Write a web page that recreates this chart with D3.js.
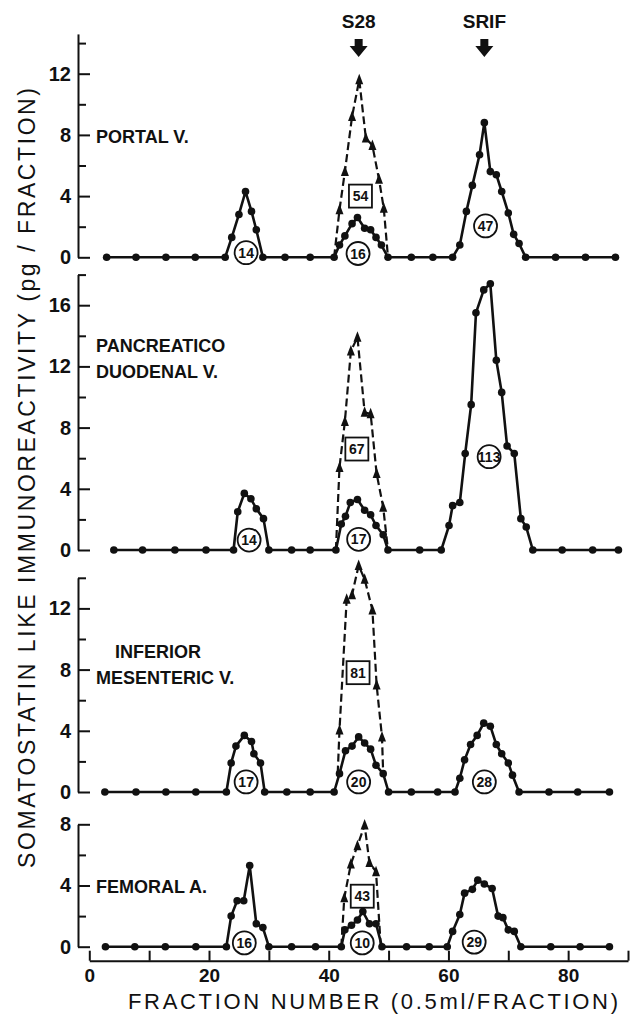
<!DOCTYPE html>
<html>
<head>
<meta charset="utf-8">
<script src="https://cdn.jsdelivr.net/npm/d3@7"></script>
<style>
body { margin: 0; background: #fff; }
svg { display: block; }
text { font-family: "Liberation Sans", Arial, sans-serif; fill: #111; }
</style>
</head>
<body>
<div id="chart"></div>
<script>

// [fraction, pg/fraction]
var portalSolid = [[2.9,0],[7.8,0],[12.8,0],[17.7,0],[22.7,0],[23.8,1.3],[25,2.8],[26.1,4.3],[27.1,3.0],[27.9,1.8],[29,0],
    [32.7,0],[36.9,0],[40.9,0],[41.8,0.8],[42.7,1.4],[43.9,2.2],[44.8,2.6],[46,1.9],[47,1.8],[47.9,1.3],[48.8,0.8],[49.9,0],
    [53.8,0],[57.4,0],[60.7,0],[61.9,0.8],[63,3.0],[64,4.7],[65.2,6.7],[66,8.8],[67,5.6],[68,5.4],[68.9,4.3],[70,2.9],
    [70.9,1.5],[71.8,0.9],[72.9,0],[77.9,0],[82.9,0],[87.9,0]];
var portalDashed = [[40.9,0],[41.8,3.1],[42.7,5.6],[43.9,9.2],[45.1,11.6],[46.2,7.8],[47.3,7.3],[48.4,5.1],[49.2,3.2],[49.9,0]];

var pancSolid = [[4.1,0],[8.9,0],[14.3,0],[19.5,0],[24.1,0],[24.8,2.5],[25.9,3.7],[27,3.35],[27.9,2.7],[29.1,2.05],[30,0],
    [33.8,0],[36.9,0],[41.2,0],[42.1,1.7],[42.8,2.2],[43.6,3.1],[44.8,3.3],[46,2.6],[47,2.3],[47.9,1.6],[49.1,1.0],[49.9,0],
    [55.2,0],[58.8,0],[60.1,1.6],[60.7,2.9],[61.9,3.1],[62.8,6.3],[63.8,9.5],[64.6,15.5],[65.9,17.0],[67,17.4],[68,12.4],
    [68.9,10.3],[69.8,6.8],[71,6.3],[72.1,2.05],[73,1.5],[74.1,0],[79,0],[84.1,0],[88.4,0]];
var pancDashed = [[41.2,0],[41.8,5.4],[42.7,8.4],[43.7,13.0],[44.8,13.9],[46,9.0],[47,8.9],[48,5.0],[49.1,2.8],[49.9,0]];

var infSolid = [[2.6,0],[7.8,0],[12.8,0],[17.8,0],[22.9,0],[23.7,1.9],[24.5,3.0],[25.9,3.7],[27.1,3.3],[27.5,2.5],[28.6,1.9],[29.3,0],
    [33,0],[36.9,0],[40.9,0],[41.8,1.2],[42.8,2.7],[43.9,3.0],[45,3.6],[46,3.2],[47,2.8],[47.9,1.75],[49.1,1.2],[50,0],
    [53.8,0],[58.2,0],[61.1,0],[61.9,0.9],[62.7,2.1],[63.7,3.1],[64.8,3.7],[65.9,4.5],[67,4.3],[68,3.1],[68.9,2.5],[70,1.9],
    [70.7,1.1],[71.8,0],[76.8,0],[81.6,0],[86.9,0]];
var infDashed = [[41.5,1.2],[41.8,4.05],[43,12.6],[43.9,12.9],[45,14.8],[46,13.9],[47.3,11.9],[48,7.0],[48.9,3.6],[49.1,1.2]];

var femSolid = [[2.7,0],[7.6,0],[12.7,0],[17.8,0],[22.9,0],[23.7,2.0],[24.7,3.0],[25.8,3.0],[26.8,5.3],[27.9,1.5],[29,1.25],[30,0],
    [33.8,0],[37.8,0],[42.1,0],[42.7,1.1],[43.8,1.4],[44.8,1.75],[45.7,2.3],[46.8,1.5],[47.9,1.5],[48.9,0],
    [53,0],[56.8,0],[59.8,0],[60.7,1.0],[61.9,2.1],[62.7,3.5],[64,3.75],[64.9,4.35],[66,4.1],[67.3,3.8],[68.3,2.0],[69.1,1.9],
    [70,1.1],[71,1.0],[72.1,0],[77.1,0],[82,0],[86.9,0]];
var femDashed = [[42.1,0],[42.6,3.2],[43.7,5.4],[44.8,6.6],[46,7.95],[46.8,5.5],[47.9,4.9],[48.7,0]];

// totals written in circles (solid peaks) and boxes (dashed peak): [fraction, y, text, shape]
var portalNotes = [[26.2,0.3,"14","c"],[44.9,0.25,"16","c"],[45.3,4.0,"54","b"],[66.2,2.05,"47","c"]];
var pancNotes = [[26.7,0.65,"14","c"],[45,0.7,"17","c"],[44.7,6.6,"67","b"],[66.8,6.1,"113","c"]];
var infNotes = [[26.2,0.66,"17","c"],[45,0.66,"20","c"],[66,0.66,"28","c"],[44.9,7.8,"81","b"]];
var femNotes = [[25.9,0.25,"16","c"],[45.6,0.25,"10","c"],[64.3,0.3,"29","c"],[45.6,3.3,"43","b"]];

var markerNames = ["S28", "SRIF"];
var markerFracs = [45, 66];

var xTicks = [0,10,20,30,40,50,60,70,80,90];
var xLabels = [0,20,40,60,80];

var width = 633, height = 1016, unit = 15.3;

var panels = [
    {solid: portalSolid, dashed: portalDashed, notes: portalNotes, top: 14.6, y0: 257.3,
     name: [["PORTAL V.", 96, 143]]},
    {solid: pancSolid, dashed: pancDashed, notes: pancNotes, top: 18, y0: 550,
     name: [["PANCREATICO", 96, 352], ["DUODENAL V.", 96, 378]]},
    {solid: infSolid, dashed: infDashed, notes: infNotes, top: 14, y0: 792,
     name: [["INFERIOR", 115, 658], ["MESENTERIC V.", 96, 684]]},
    {solid: femSolid, dashed: femDashed, notes: femNotes, top: 8, y0: 946.7,
     name: [["FEMORAL A.", 96, 893]]},
];

var svg = d3.select("#chart").append("svg")
    .attr("width", width)
    .attr("height", height);

svg.append("rect").attr("width", width).attr("height", height).attr("fill", "#fff");

var x = d3.scaleLinear().domain([0, 90]).range([89.3, 628]);
var axisX = 78;

panels.forEach(function(p) {
    var y = d3.scaleLinear().domain([0, p.top]).range([p.y0, p.y0 - p.top * unit]);
    var g = svg.append("g");

    // y axis: labelled majors every 4, minors every 2, ticks point inwards
    var major = d3.range(0, p.top + 0.01, 4);
    var minor = d3.range(2, p.top + 0.01, 4);

    var ga = g.append("g")
        .attr("transform", "translate(" + axisX + ",0)")
        .call(d3.axisLeft(y).tickValues(major).tickSizeInner(-12).tickSizeOuter(0)
              .tickPadding(7).tickFormat(d3.format("d")));
    g.append("g")
        .attr("transform", "translate(" + axisX + ",0)")
        .call(d3.axisLeft(y).tickValues(minor).tickSizeInner(-8).tickSizeOuter(0).tickFormat(""))
        .select(".domain").remove();

    g.selectAll(".domain, .tick line").attr("stroke", "#111").attr("stroke-width", 2);
    ga.selectAll(".tick text")
        .attr("font-size", 20).attr("font-weight", "bold").attr("fill", "#111");

    // panel name
    p.name.forEach(function(n) {
        g.append("text").attr("x", n[1]).attr("y", n[2])
            .attr("font-size", 18).attr("font-weight", "bold")
            .text(n[0]);
    });

    var line = d3.line().x(d => x(d[0])).y(d => y(d[1]));

    // dashed S28 profile (other assay)
    g.append("path")
        .attr("d", line(p.dashed))
        .attr("fill", "none").attr("stroke", "#111")
        .attr("stroke-width", 2.2).attr("stroke-dasharray", "8,4");
    g.selectAll(".tri")
        .data(p.dashed.filter(d => d[1] > 1.5))
        .enter().append("path")
        .attr("class", "tri")
        .attr("d", "M0,-6L4,4.5L-4,4.5Z")
        .attr("transform", d => "translate(" + x(d[0]) + "," + y(d[1]) + ")")
        .attr("fill", "#111");

    // solid profile
    g.append("path")
        .attr("d", line(p.solid))
        .attr("fill", "none").attr("stroke", "#111")
        .attr("stroke-width", 2.6).attr("stroke-linejoin", "round");
    g.selectAll(".dot")
        .data(p.solid)
        .enter().append("circle")
        .attr("class", "dot")
        .attr("cx", d => x(d[0]))
        .attr("cy", d => y(d[1]))
        .attr("r", 3.8)
        .attr("fill", "#111");

    // circled and boxed totals
    var notes = g.selectAll(".note")
        .data(p.notes)
        .enter().append("g")
        .attr("class", "note")
        .attr("transform", d => "translate(" + x(d[0]) + "," + y(d[1]) + ")");
    notes.filter(d => d[3] == "c").append("circle")
        .attr("r", 11.5).attr("fill", "#fff").attr("stroke", "#111").attr("stroke-width", 1.8);
    notes.filter(d => d[3] == "b").append("rect")
        .attr("x", -11.5).attr("y", -11.5).attr("width", 23).attr("height", 23)
        .attr("fill", "#fff").attr("stroke", "#111").attr("stroke-width", 1.8);
    notes.append("text")
        .attr("text-anchor", "middle").attr("dy", "0.36em")
        .attr("font-size", 14).attr("font-weight", "bold")
        .text(d => d[2]);
});

// x axis under the last panel
var gx = svg.append("g")
    .attr("transform", "translate(0,960.7)")
    .call(d3.axisBottom(x).tickValues(xTicks).tickSizeInner(-10).tickSizeOuter(0)
          .tickPadding(8).tickFormat(d => xLabels.indexOf(d) >= 0 ? d : ""));
gx.selectAll(".domain, .tick line").attr("stroke", "#111").attr("stroke-width", 2);
gx.selectAll(".tick text").attr("font-size", 19).attr("font-weight", "bold").attr("fill", "#111");

svg.append("text")
    .attr("x", 128).attr("y", 1009)
    .attr("font-size", 22)
    .attr("textLength", 490).attr("lengthAdjust", "spacing")
    .text("FRACTION NUMBER  (0.5ml/FRACTION)");

svg.append("text")
    .attr("transform", "translate(35,478) rotate(-90)")
    .attr("text-anchor", "middle")
    .attr("font-size", 23)
    .attr("textLength", 780).attr("lengthAdjust", "spacing")
    .text("SOMATOSTATIN LIKE IMMUNOREACTIVITY  (pg / FRACTION)");

// elution markers at the top
var mk = svg.selectAll(".marker")
    .data(markerNames)
    .enter().append("g")
    .attr("class", "marker")
    .attr("transform", (d, i) => "translate(" + x(markerFracs[i]) + ",0)");
mk.append("text")
    .attr("y", 28).attr("text-anchor", "middle")
    .attr("font-size", 19).attr("font-weight", "bold")
    .text(d => d);
mk.append("path")
    .attr("d", "M-4,39H4V46H9L0,57L-9,46H-4Z")
    .attr("fill", "#111");

</script>
</body>
</html>
